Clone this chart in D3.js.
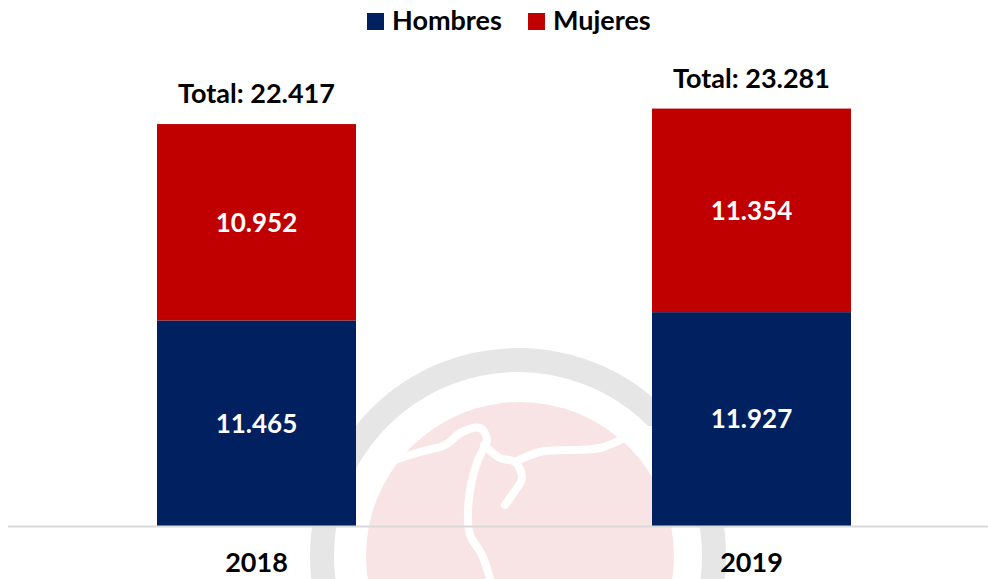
<!DOCTYPE html>
<html>
<head>
<meta charset="utf-8">
<style>
  body { margin: 0; background: #fff; }
  svg { display: block; }
  text { font-family: Lato, "Open Sans", sans-serif; font-weight: bold; }
</style>
<script src="https://cdn.jsdelivr.net/npm/d3@7"></script>
</head>
<body>
<svg id="chart" width="988" height="579"></svg>
<script>
// data
var years = ["2018", "2019"];
var hombres = [11465, 11927];
var mujeres = [10952, 11354];
var seriesNames = ["Hombres", "Mujeres"];
var seriesColors = ["#002060", "#c00000"];

var svg = d3.select("#chart");
var baseY = 526;

var fmt = function(v) { return d3.format(",")(v).replace(/,/g, "."); };

var x = d3.scaleBand()
  .domain(years)
  .range([9, 999])
  .paddingInner(0.598)
  .paddingOuter(0.299);

var y = d3.scaleLinear()
  .domain([0, 25000])
  .range([baseY, baseY - 25000 * 0.01793]);

// watermark (background logo)
var wm = svg.append("g").attr("class", "watermark");
wm.append("circle")
  .attr("cx", 518).attr("cy", 556).attr("r", 196)
  .attr("fill", "none").attr("stroke", "#e6e6e6").attr("stroke-width", 24);
wm.append("circle")
  .attr("cx", 520).attr("cy", 556).attr("r", 154)
  .attr("fill", "#f8e4e4");
var river = d3.line().curve(d3.curveCatmullRom);
var rivers = [
  [[395, 460], [420, 452], [445, 445], [462, 432], [480, 428], [487, 440], [478, 460], [470, 490], [468, 520], [470, 535], [482, 555], [490, 579]],
  [[484, 445], [500, 458], [515, 462], [522, 478], [512, 495], [505, 505]],
  [[515, 462], [540, 452], [570, 450], [600, 448], [630, 436], [650, 430], [665, 432]]
];
wm.selectAll("path.river")
  .data(rivers)
  .enter().append("path")
  .attr("class", "river")
  .attr("d", river)
  .attr("fill", "none")
  .attr("stroke", "#fff")
  .attr("stroke-width", 8)
  .attr("stroke-linecap", "round");

// stacked data
var rows = years.map(function(yr, i) {
  return { year: yr, Hombres: hombres[i], Mujeres: mujeres[i] };
});
var stack = d3.stack().keys(seriesNames)(rows);

var layers = svg.selectAll("g.layer")
  .data(stack)
  .enter().append("g")
  .attr("class", "layer")
  .attr("fill", function(d, i) { return seriesColors[i]; });

layers.selectAll("rect")
  .data(function(d) { return d; })
  .enter().append("rect")
  .attr("x", function(d) { return x(d.data.year); })
  .attr("width", x.bandwidth())
  .attr("y", function(d) { return y(d[1]); })
  .attr("height", function(d) { return y(d[0]) - y(d[1]); });

layers.selectAll("text")
  .data(function(d) { return d; })
  .enter().append("text")
  .attr("x", function(d) { return x(d.data.year) + x.bandwidth() / 2; })
  .attr("y", function(d) { return (y(d[0]) + y(d[1])) / 2; })
  .attr("dy", "0.36em")
  .attr("text-anchor", "middle")
  .attr("fill", "#fff")
  .attr("font-size", 26)
  .text(function(d) { return fmt(d[1] - d[0]); });

// totals
svg.selectAll("text.total")
  .data(rows)
  .enter().append("text")
  .attr("class", "total")
  .attr("x", function(d) { return x(d.year) + x.bandwidth() / 2; })
  .attr("y", function(d) { return y(d.Hombres + d.Mujeres) - 21; })
  .attr("text-anchor", "middle")
  .attr("fill", "#000")
  .attr("font-size", 27)
  .text(function(d) { return "Total: " + fmt(d.Hombres + d.Mujeres); });

// axis
var xAxis = svg.append("g")
  .attr("transform", "translate(0," + baseY + ")")
  .call(d3.axisBottom(x).tickSize(0).tickPadding(27));
xAxis.select(".domain")
  .attr("d", "M8,0.5H988")
  .attr("stroke", "#d9d9d9")
  .attr("stroke-width", 2);
xAxis.selectAll(".tick text")
  .attr("font-family", "Lato, sans-serif")
  .attr("font-weight", "bold")
  .attr("font-size", 27)
  .attr("fill", "#000");

// legend
var legend = svg.append("g").attr("transform", "translate(367,13)");
var legX = [0, 161];
var items = legend.selectAll("g")
  .data(seriesNames)
  .enter().append("g")
  .attr("transform", function(d, i) { return "translate(" + legX[i] + ",0)"; });
items.append("rect")
  .attr("width", 17).attr("height", 17)
  .attr("fill", function(d, i) { return seriesColors[i]; });
items.append("text")
  .attr("x", 25).attr("y", 17)
  .attr("font-size", 27)
  .attr("fill", "#000")
  .text(function(d) { return d; });
</script>
</body>
</html>
